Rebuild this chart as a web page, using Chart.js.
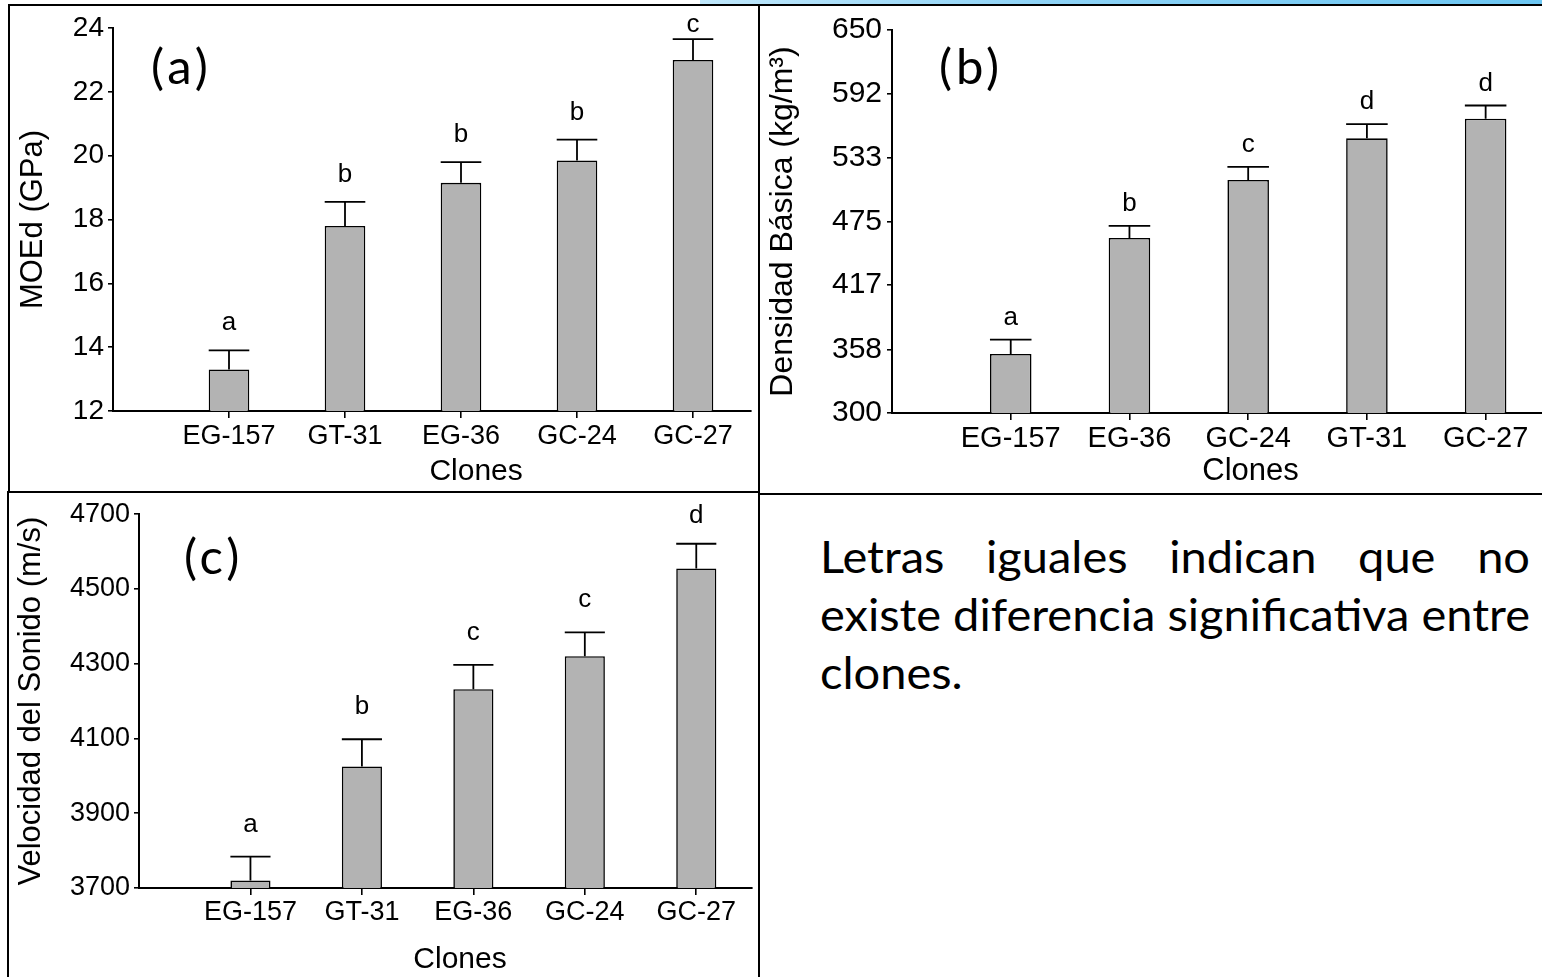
<!DOCTYPE html>
<html><head><meta charset="utf-8">
<script src="https://cdn.jsdelivr.net/npm/chart.js@4.4.1/dist/chart.umd.min.js"></script>
<style>
html,body{margin:0;padding:0;background:#fff;width:1542px;height:977px;overflow:hidden;position:relative;}
canvas{position:absolute;}
.ln{position:absolute;background:#000;}
.tag{position:absolute;font-family:Lato,"Open Sans",sans-serif;font-size:49px;letter-spacing:4px;color:#000;line-height:1;}
#note{position:absolute;left:820px;top:527px;font-family:Lato,"Open Sans",sans-serif;font-size:44px;line-height:58px;color:#000;transform-origin:0 0;}
#note div{white-space:nowrap;}
#note .j{text-align:justify;text-align-last:justify;}
#band{position:absolute;left:700px;top:0;width:842px;height:4px;background:linear-gradient(to right,#bfe7fb,#8fd3f6 40%,#6cc6f2);}
</style></head>
<body>
<div id="band"></div>
<div class="ln" style="left:8px;top:4px;width:1534px;height:2px"></div>
<div class="ln" style="left:8px;top:4px;width:2px;height:489px"></div>
<div class="ln" style="left:758px;top:4px;width:2px;height:973px"></div>
<div class="ln" style="left:8px;top:491px;width:752px;height:2px"></div>
<div class="ln" style="left:758px;top:493px;width:784px;height:2px"></div>
<div class="ln" style="left:7px;top:491px;width:2px;height:486px"></div>

<canvas id="cA" width="746" height="483" style="left:11px;top:7px"></canvas>
<canvas id="cB" width="790" height="485" style="left:761px;top:7px"></canvas>
<canvas id="cC" width="748" height="483" style="left:10px;top:494px"></canvas>

<div class="tag" style="left:151px;top:41px">(a)</div>
<div class="tag" style="left:939px;top:41px">(b)</div>
<div class="tag" style="left:184px;top:531px">(c)</div>

<div id="note">
  <div class="j">Letras iguales indican que no</div>
  <div class="j" id="l2">existe diferencia significativa entre</div>
  <div>clones.</div>
</div>

<script>
// Panel (a): MOEd
const clonesA = ['EG-157', 'GT-31', 'EG-36', 'GC-24', 'GC-27'];
const moeA = [13.3, 17.8, 19.15, 19.85, 23.0];
const moeErrTopA = [13.9, 18.55, 19.8, 20.5, 23.65];
const lettersA = ['a', 'b', 'b', 'b', 'c'];
const yTicksA = [12, 14, 16, 18, 20, 22, 24];

// Panel (b): Densidad básica
const clonesB = ['EG-157', 'EG-36', 'GC-24', 'GT-31', 'GC-27'];
const densB = [354, 460, 513, 551, 569];
const densErrTopB = [367, 471, 525, 564, 581];
const lettersB = ['a', 'b', 'c', 'd', 'd'];
const yTicksB = [300, 358, 417, 475, 533, 592, 650];

// Panel (c): Velocidad del sonido
const clonesC = ['EG-157', 'GT-31', 'EG-36', 'GC-24', 'GC-27'];
const velC = [3720, 4025, 4232, 4320, 4555];
const velErrTopC = [3784, 4098, 4297, 4384, 4621];
const lettersC = ['a', 'b', 'c', 'c', 'd'];
const yTicksC = [3700, 3900, 4100, 4300, 4500, 4700];

const FONT = 'Liberation Sans, Arial, sans-serif';

function makePanel(id, labels, values, errTop, letters, yTicks, o) {
  const extras = {
    id: 'extras_' + id,
    afterDatasetsDraw(chart) {
      const ctx = chart.ctx;
      const meta = chart.getDatasetMeta(0);
      const ys = chart.scales.y, xs = chart.scales.x;
      ctx.save();
      ctx.strokeStyle = '#000';
      ctx.lineWidth = 1.8;
      meta.data.forEach((bar, i) => {
        const x = bar.x, w = bar.width;
        const yv = ys.getPixelForValue(values[i]);
        const ye = ys.getPixelForValue(errTop[i]);
        ctx.beginPath();
        ctx.moveTo(x, yv); ctx.lineTo(x, ye);
        ctx.moveTo(x - w / 2, ye); ctx.lineTo(x + w / 2, ye);
        ctx.stroke();
        ctx.fillStyle = '#000';
        ctx.font = o.letterSize + 'px ' + FONT;
        ctx.textAlign = 'center';
        ctx.textBaseline = 'alphabetic';
        const ly = Math.max(ye - o.letterGap, chart.chartArea.top + o.letterMin);
        ctx.fillText(letters[i], x, ly);
      });
      ctx.font = o.xTitleSize + 'px ' + FONT;
      ctx.textAlign = 'center';
      ctx.textBaseline = 'middle';
      ctx.fillText('Clones', xs.getPixelForValue(o.xTitleAt), chart.height - o.xTitleBottom);
      ctx.restore();
    }
  };
  return new Chart(document.getElementById(id), {
    type: 'bar',
    data: {
      datasets: [{
        data: labels.map((l, i) => ({ x: i + 1, y: values[i] })),
        backgroundColor: '#b3b3b3',
        borderColor: '#000',
        borderWidth: 1.6,
        categoryPercentage: 1,
        barPercentage: o.barPct
      }]
    },
    options: {
      responsive: false,
      animation: false,
      events: [],
      layout: { padding: { left: 0, top: o.padTop, right: o.padRight, bottom: 0 } },
      plugins: { legend: { display: false }, tooltip: { enabled: false } },
      scales: {
        x: {
          type: 'linear', min: 0, max: 5.5, offset: false,
          afterBuildTicks: s => { s.ticks = labels.map((l, i) => ({ value: i + 1 })); },
          afterFit: s => { s.height = o.xH; },
          grid: { drawOnChartArea: false, drawTicks: true, tickLength: 7, color: '#000', lineWidth: 1.6, offset: false },
          border: { display: true, color: '#000', width: 2 },
          ticks: {
            autoSkip: false, maxRotation: 0, minRotation: 0, padding: o.xTickPad, color: '#000',
            font: { family: FONT, size: o.xTickSize },
            callback: v => labels[v - 1] ?? ''
          }
        },
        y: {
          type: 'linear', min: yTicks[0], max: yTicks[yTicks.length - 1],
          afterBuildTicks: s => { s.ticks = yTicks.map(v => ({ value: v })); },
          afterFit: s => { s.width = o.yW; },
          grid: { drawOnChartArea: false, drawTicks: true, tickLength: 5, color: '#000', lineWidth: 1.6 },
          border: { display: true, color: '#000', width: 2 },
          ticks: {
            padding: o.yTickPad, color: '#000',
            font: { family: FONT, size: o.yTickSize },
            callback: v => String(v)
          },
          title: {
            display: true, text: o.yTitle, color: '#000',
            font: { family: FONT, size: o.yTitleSize, lineHeight: 1 },
            padding: { top: o.yTitlePad, bottom: 0 }
          }
        }
      }
    },
    plugins: [extras]
  });
}

makePanel('cA', clonesA, moeA, moeErrTopA, lettersA, yTicksA, {
  padTop: 21, padRight: 6, yW: 102, xH: 79, barPct: 0.35,
  xTickSize: 27, xTickPad: 2, yTickSize: 28, yTickPad: 4,
  yTitle: 'MOEd (GPa)', yTitleSize: 31, yTitlePad: 6.5,
  xTitleSize: 30, xTitleAt: 3.13, xTitleBottom: 18,
  letterSize: 26, letterGap: 20, letterMin: 4
});
makePanel('cB', clonesB, densB, densErrTopB, lettersB, yTicksB, {
  padTop: 19, padRight: 6, yW: 131, xH: 79, barPct: 0.35,
  xTickSize: 29, xTickPad: 2, yTickSize: 30, yTickPad: 5,
  yTitle: 'Densidad Básica (kg/m³)', yTitleSize: 32, yTitlePad: 6,
  xTitleSize: 31, xTitleAt: 3.02, xTitleBottom: 21,
  letterSize: 26, letterGap: 15, letterMin: 4
});
makePanel('cC', clonesC, velC, velErrTopC, lettersC, yTicksC, {
  padTop: 20, padRight: 6, yW: 129, xH: 89, barPct: 0.36,
  xTickSize: 27, xTickPad: 1, yTickSize: 27, yTickPad: 4,
  yTitle: 'Velocidad del Sonido (m/s)', yTitleSize: 31, yTitlePad: 5.5,
  xTitleSize: 30, xTitleAt: 2.88, xTitleBottom: 17,
  letterSize: 26, letterGap: 25, letterMin: 9
});

// fit note text block to the reference width (820 -> 1530)
(function () {
  const note = document.getElementById('note');
  const l2 = document.getElementById('l2');
  const span = document.createElement('span');
  span.textContent = l2.textContent;
  span.style.whiteSpace = 'nowrap';
  l2.textContent = '';
  l2.appendChild(span);
  const w = span.getBoundingClientRect().width;
  l2.textContent = span.textContent;
  note.style.width = w + 'px';
  note.style.transform = 'scaleX(' + (710 / w) + ')';
})();
</script>
</body></html>
